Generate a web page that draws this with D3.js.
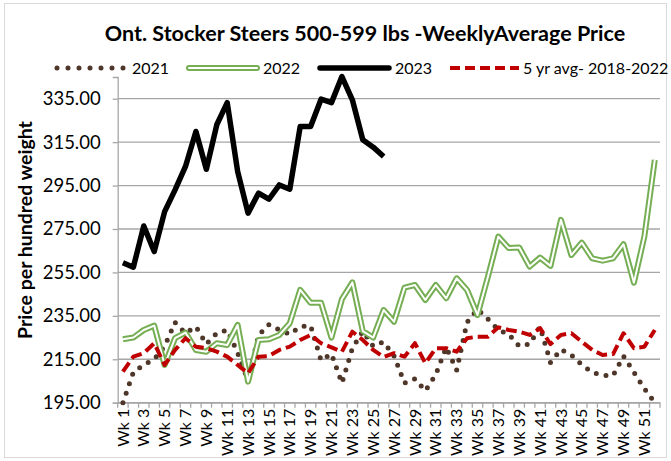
<!DOCTYPE html>
<html>
<head>
<meta charset="utf-8">
<script src="https://cdn.jsdelivr.net/npm/d3@7"></script>
<style>
  body { margin: 0; background: #fff; }
  text { font-family: Lato, "Open Sans", sans-serif; fill: #000; }
</style>
</head>
<body>
<div id="chart"></div>
<script>
// Weekly average price, Ont. stocker steers 500-599 lbs

// Categories and tick values
var weeks = d3.range(1, 53).map(function(i) { return "Wk " + i })
var weekLabels = weeks.filter(function(d, i) { return i % 2 === 0 })
var yTicks = [195, 215, 235, 255, 275, 295, 315, 335]

// Series values
var y2021 = [195, 209, 212.5, 215, 221, 232, 227, 230, 222, 227, 228.5, 218, 205,
  226, 231, 228.5, 226.5, 230, 230.5, 214.5, 217.5, 204, 220, 228, 221, 223,
  216.5, 204, 206, 200.5, 208, 220.5, 210, 232, 238, 233.5, 228.5, 226.5, 221,
  222, 230, 213.5, 219.5, 217, 212.5, 209, 207.5, 207.5, 216.5, 209, 201.5, 195]
var y2022 = [224.2, 225, 228.5, 230.5, 212.4, 224.7, 227.3, 219.3, 218.5, 222.4,
  221.6, 230.8, 204.7, 223.9, 224.2, 226.2, 231.6, 247, 241, 241, 225, 242.7,
  250.4, 228, 225, 237.7, 232.3, 248, 249.2, 242.3, 249.2, 243.1, 252.3, 246.9,
  235.4, 253, 271.5, 266.2, 266.5, 257.7, 261.8, 258, 279.2, 263, 268.7, 261.5,
  260.4, 261.5, 268, 250.3, 271.5, 306.8]
var y2023 = [259.5, 257.4, 276.4, 264.6, 283, 293, 303.8, 319.9, 302.5, 323,
  333.2, 301.5, 282.3, 291.5, 288.7, 295.3, 293.3, 322.2, 322.2, 334.8, 333.2,
  345.2, 334.5, 316.1, 312.7, 308.4]
var avg5yr = [209.3, 216.2, 217.8, 222.4, 212.4, 219.3, 224.7, 220.8, 220.1, 218.5,
  216.2, 212.4, 208.5, 216.2, 216.5, 219.3, 220.8, 223.9, 226.2, 222.4, 220.5,
  218.5, 227.7, 223.9, 219.3, 216, 217.8, 216.2, 222.4, 213.2, 220.1, 220.1,
  218.5, 224.7, 225.4, 225.4, 229.7, 228.5, 227.7, 226.2, 229.3, 222, 226.2, 227,
  223.1, 219.3, 217, 217.4, 227, 220.1, 220.8, 228.5]

var width = 671
var height = 461
var plot = { left: 117.7, right: 660, top: 77, bottom: 402.7 }

var svg = d3.select("#chart")
  .append("svg")
  .attr("width", width)
  .attr("height", height)

// chart frame
svg.append("rect")
  .attr("x", 4.5).attr("y", 3.5)
  .attr("width", 662).attr("height", 454)
  .attr("fill", "#fff")
  .attr("stroke", "#d9d9d9")

var x = d3.scaleBand().domain(weeks).range([plot.left, plot.right])
var y = d3.scaleLinear().domain([195, 345]).range([plot.bottom, plot.top])
function cx(i) { return x(weeks[i]) + x.bandwidth() / 2 }

// gridlines
svg.append("g")
  .selectAll("line")
  .data(yTicks)
  .join("line")
  .attr("x1", plot.left).attr("x2", plot.right)
  .attr("y1", function(d) { return y(d) }).attr("y2", function(d) { return y(d) })
  .attr("stroke", "#a6a6a6")
  .attr("stroke-width", 1.3)

// y axis
var yAxis = svg.append("g")
  .attr("transform", "translate(" + plot.left + ",0)")
  .call(d3.axisLeft(y).tickValues(yTicks).tickFormat(d3.format(".2f")).tickSize(5).tickPadding(12))
yAxis.select(".domain").attr("stroke", "#a6a6a6").attr("stroke-width", 1.3)
yAxis.selectAll(".tick line").attr("stroke", "#a6a6a6").attr("stroke-width", 1.3)
yAxis.selectAll(".tick text").style("font-size", "18.5px")

// x axis: ticks at category edges, labels on every other week
var xAxis = svg.append("g")
  .attr("transform", "translate(0," + plot.bottom + ")")
  .call(d3.axisBottom(x).tickValues(weekLabels).tickSize(0))
xAxis.select(".domain").attr("stroke", "#a6a6a6").attr("stroke-width", 1.3)
xAxis.selectAll(".tick text")
  .style("font-size", "16px")
  .attr("text-anchor", "end")
  .attr("transform", "translate(0,6) rotate(-90)")
  .attr("x", 0).attr("y", 0).attr("dy", "0.35em")
xAxis.append("g")
  .selectAll("line")
  .data(d3.range(weeks.length + 1))
  .join("line")
  .attr("x1", function(i) { return plot.left + i * x.step() })
  .attr("x2", function(i) { return plot.left + i * x.step() })
  .attr("y1", 0).attr("y2", 5)
  .attr("stroke", "#a6a6a6")
  .attr("stroke-width", 1.3)

// y axis title
svg.append("text")
  .attr("transform", "translate(32,230) rotate(-90)")
  .attr("text-anchor", "middle")
  .style("font-size", "19.5px")
  .style("font-weight", "bold")
  .text("Price per hundred weight")

// title
svg.append("text")
  .attr("x", 365).attr("y", 41)
  .attr("text-anchor", "middle")
  .style("font-size", "21.5px")
  .style("font-weight", "bold")
  .text("Ont. Stocker Steers 500-599 lbs -WeeklyAverage Price")

// series
var line = d3.line()
  .x(function(d, i) { return cx(i) })
  .y(function(d) { return y(d) })

var lines = svg.append("g").attr("stroke-linejoin", "round").attr("fill", "none")

lines.append("path").datum(y2021)
  .attr("d", line)
  .attr("stroke", "#4e3629").attr("stroke-width", 5)
  .attr("stroke-linecap", "round").attr("stroke-dasharray", "0 10")

lines.append("path").datum(y2022)
  .attr("d", line)
  .attr("stroke", "#76ae54").attr("stroke-width", 6)
lines.append("path").datum(y2022)
  .attr("d", line)
  .attr("stroke", "#fff").attr("stroke-width", 2)

lines.append("path").datum(y2023)
  .attr("d", line)
  .attr("stroke", "#000").attr("stroke-width", 5.5)

lines.append("path").datum(avg5yr)
  .attr("d", line)
  .attr("stroke", "#c00000").attr("stroke-width", 4)
  .attr("stroke-dasharray", "11 5")

// legend
var legend = [
  { name: "2021", x0: 57, x1: 125, tx: 132 },
  { name: "2022", x0: 189, x1: 257, tx: 263 },
  { name: "2023", x0: 320, x1: 389, tx: 395 },
  { name: "5 yr avg- 2018-2022", x0: 450, x1: 519, tx: 523 }
]
var ly = 68
var lg = svg.append("g").attr("fill", "none")
lg.append("line").attr("x1", legend[0].x0).attr("x2", legend[0].x1).attr("y1", ly).attr("y2", ly)
  .attr("stroke", "#4e3629").attr("stroke-width", 5)
  .attr("stroke-linecap", "round").attr("stroke-dasharray", "0 11")
lg.append("line").attr("x1", legend[1].x0).attr("x2", legend[1].x1).attr("y1", ly).attr("y2", ly)
  .attr("stroke", "#76ae54").attr("stroke-width", 6).attr("stroke-linecap", "round")
lg.append("line").attr("x1", legend[1].x0).attr("x2", legend[1].x1).attr("y1", ly).attr("y2", ly)
  .attr("stroke", "#fff").attr("stroke-width", 2).attr("stroke-linecap", "round")
lg.append("line").attr("x1", legend[2].x0).attr("x2", legend[2].x1).attr("y1", ly).attr("y2", ly)
  .attr("stroke", "#000").attr("stroke-width", 5.5).attr("stroke-linecap", "round")
lg.append("line").attr("x1", legend[3].x0).attr("x2", legend[3].x1).attr("y1", ly).attr("y2", ly)
  .attr("stroke", "#c00000").attr("stroke-width", 4).attr("stroke-dasharray", "10 5")

svg.append("g")
  .selectAll("text")
  .data(legend)
  .join("text")
  .attr("x", function(d) { return d.tx })
  .attr("y", ly)
  .attr("dy", "0.35em")
  .style("font-size", "16px")
  .text(function(d) { return d.name })
</script>
</body>
</html>
